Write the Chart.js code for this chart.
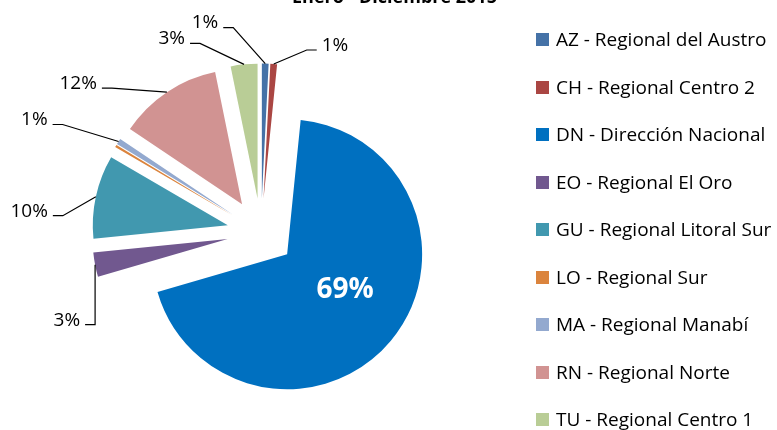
<!DOCTYPE html>
<html>
<head>
<meta charset="utf-8">
<title>Enero - Diciembre 2015</title>
<script src="https://cdn.jsdelivr.net/npm/chart.js@4.4.0/dist/chart.umd.min.js"></script>
<style>
    html, body { margin: 0; padding: 0; background: #fff; overflow: hidden; }
    #wrap { position: relative; width: 777px; height: 430px; overflow: hidden; font-family: 'Open Sans', sans-serif; color: #000; }
    #chart { position: absolute; left: 0; top: 0; }
    #title { position: absolute; left: 0; width: 789px; top: -13px; text-align: center; font-weight: bold; font-size: 18px; line-height: 19px; }
    #legend { position: absolute; left: 536px; top: 0; }
    .item { position: absolute; left: 0; white-space: nowrap; font-size: 19px; line-height: 19px; }
    .swatch { position: absolute; left: 0; top: 3px; width: 13px; height: 13px; }
    .txt { position: absolute; left: 20px; top: 0; }
</style>
</head>
<body>
<div id="wrap">
    <canvas id="chart" width="777" height="430"></canvas>
    <div id="title"></div>
    <div id="legend"></div>
</div>
<script>
// Chart data
const chartTitle = 'Enero - Diciembre 2015';
const categories = [
    'AZ - Regional del Austro',
    'CH - Regional Centro 2',
    'DN - Dirección Nacional',
    'EO - Regional El Oro',
    'GU - Regional Litoral Sur',
    'LO - Regional Sur',
    'MA - Regional Manabí',
    'RN - Regional Norte',
    'TU - Regional Centro 1'
];
const shares = [0.8, 0.8, 68.9, 2.9, 10.0, 0.3, 0.7, 12.4, 3.2];
const sliceColors = ['#4572A7', '#AA4643', '#0070C0', '#71588F', '#4198AF', '#DB843D', '#93A9CF', '#D19392', '#B9CD96'];

// Label layout: bend of each leader line relative to the slice edge (null = no outside label)
const labelBends = [[-32, -36, 'left'], [33, -14, 'right'], null, [0, 60, 'left'], [-33, 19, 'left'], null, [-56, -17, 'left'], [-55, -4, 'left'], [-44, -21, 'left']];
const insideIndex = 2;
const insideNudge = [6, -7];

/**
 * Arc that is pulled out of the pie by its full offset, without growing its radius
 */
class ExplodedArc extends Chart.ArcElement {
    static id = 'explodedArc';

    draw(ctx) {
        const opts = this.options;
        const shift = opts.offset || 0;
        const mid = (this.startAngle + this.endAngle) / 2;
        ctx.save();
        ctx.translate(Math.cos(mid) * shift, Math.sin(mid) * shift);
        this.options = Object.assign({}, opts, { offset: 0 });
        super.draw(ctx);
        this.options = opts;
        ctx.restore();
    }
}

class ExplodedPie extends Chart.PieController {
    static id = 'explodedPie';
    static defaults = { dataElementType: 'explodedArc' };
}

Chart.register(ExplodedArc, ExplodedPie);

/**
 * Percentage labels with leader lines
 */
const pieLabels = {
    id: 'pieLabels',
    afterDatasetsDraw(chart) {
        const ctx = chart.ctx;
        const meta = chart.getDatasetMeta(0);
        const total = shares.reduce((a, b) => a + b, 0);

        ctx.save();
        meta.data.forEach((arc, i) => {
            const p = arc.getProps(['x', 'y', 'startAngle', 'endAngle', 'outerRadius'], true);
            const mid = (p.startAngle + p.endAngle) / 2;
            const shift = arc.options.offset || 0;
            const text = Math.round(shares[i] / total * 100) + '%';

            if (i === insideIndex) {
                const r = shift + p.outerRadius / 2;
                ctx.font = 'bold 28px "Open Sans"';
                ctx.fillStyle = '#fff';
                ctx.textAlign = 'center';
                ctx.textBaseline = 'middle';
                ctx.fillText(text, p.x + Math.cos(mid) * r + insideNudge[0], p.y + Math.sin(mid) * r + insideNudge[1]);
                return;
            }

            const bend = labelBends[i];
            if (!bend) return;

            const ax = p.x + Math.cos(mid) * (p.outerRadius + shift);
            const ay = p.y + Math.sin(mid) * (p.outerRadius + shift);
            const bx = ax + bend[0];
            const by = ay + bend[1];
            const dir = bend[2] === 'right' ? 1 : -1;
            const ex = bx + dir * 10;

            ctx.beginPath();
            ctx.moveTo(ax, ay);
            ctx.lineTo(bx, by);
            ctx.lineTo(ex, by);
            ctx.strokeStyle = '#000';
            ctx.lineWidth = 1.2;
            ctx.stroke();

            ctx.font = '19px "Open Sans"';
            ctx.fillStyle = '#000';
            ctx.textAlign = dir > 0 ? 'left' : 'right';
            ctx.textBaseline = 'middle';
            ctx.fillText(text, ex + dir * 5, by - 4.5);
        });
        ctx.restore();
    }
};

document.getElementById('title').textContent = chartTitle;

// Legend on the right
const legend = document.getElementById('legend');
categories.forEach((name, i) => {
    const item = document.createElement('div');
    item.className = 'item';
    item.style.top = (30 + i * 47.5) + 'px';
    const swatch = document.createElement('span');
    swatch.className = 'swatch';
    swatch.style.background = sliceColors[i];
    const txt = document.createElement('span');
    txt.className = 'txt';
    txt.textContent = name;
    item.appendChild(swatch);
    item.appendChild(txt);
    legend.appendChild(item);
});

new Chart(document.getElementById('chart'), {
    type: 'explodedPie',
    data: {
        labels: categories,
        datasets: [{
            data: shares,
            backgroundColor: sliceColors,
            borderWidth: 0,
            offset: 34,
            radius: 135
        }]
    },
    options: {
        responsive: false,
        animation: false,
        events: [],
        layout: {
            padding: { left: 0, right: 255, top: 35, bottom: 0 }
        },
        plugins: {
            legend: { display: false },
            tooltip: { enabled: false }
        }
    },
    plugins: [pieLabels]
});
</script>
</body>
</html>
